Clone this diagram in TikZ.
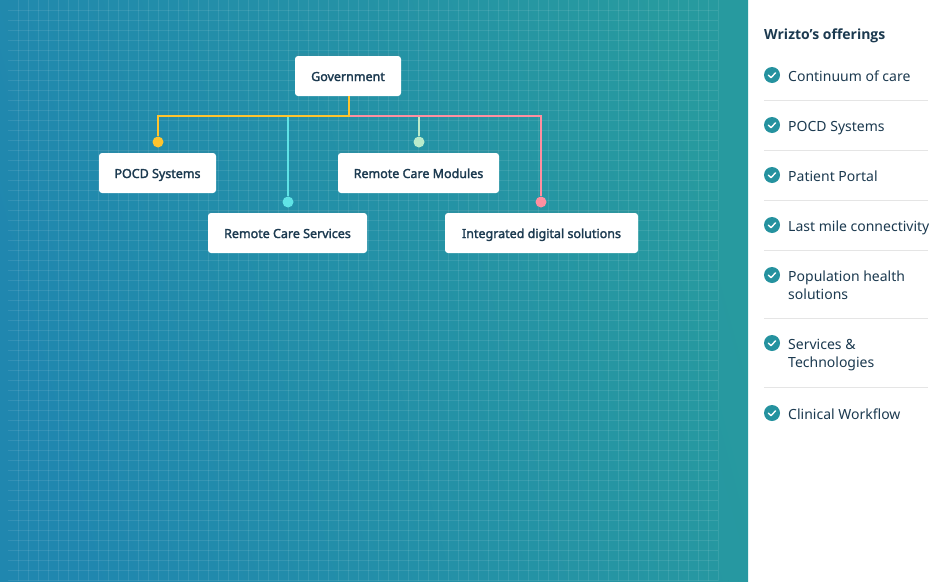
\documentclass[tikz,border=0pt]{standalone}
\usepackage{fontspec}
\setmainfont{Noto Sans}
\newfontfamily\boxfont[FakeBold=2]{Noto Sans}
\newfontfamily\titlefont{Open Sans}
\usetikzlibrary{shadows}
\definecolor{inkblue}{HTML}{1C3A50}
\definecolor{tealdark}{HTML}{25929F}
\definecolor{lineyellow}{HTML}{FFC42E}
\definecolor{linecyan}{HTML}{5FE3E6}
\definecolor{linemint}{HTML}{B9EBCB}
\definecolor{linepink}{HTML}{FF8FA0}
\definecolor{bgleft}{HTML}{2087AF}
\definecolor{bgright}{HTML}{279A9F}
\tikzset{
	offerbox/.style={fill=white,rounded corners=3pt,minimum height=40pt,inner sep=0pt,text=inkblue,
		text height=10pt,text depth=0pt,
		font=\boxfont\fontsize{12.5}{14}\selectfont,drop shadow={shadow xshift=0pt,shadow yshift=3pt,opacity=.08}},
	enddot/.style={circle,inner sep=0pt,minimum size=11pt},
	wireline/.style={line width=2.4pt},
	gridline/.style={white,opacity=.09,line width=1pt},
	tickdot/.style={circle,fill=tealdark,inner sep=0pt,minimum size=16pt},
	tickmark/.style={white,line width=1.4pt,line cap=round,line join=round},
	offertext/.style={anchor=north west,inner sep=0pt,text=inkblue,align=left,font=\fontsize{14}{18}\selectfont},
	divider/.style={draw=black!10,line width=1pt}
}
\begin{document}
\begin{tikzpicture}[x=1pt,y=-1pt]
	\useasboundingbox (0,0) rectangle (944,581);
	\fill[white] (0,0) rectangle (944,581);
	\shade[shading=axis,left color=bgleft,right color=bgright,shading angle=105] (0,0) rectangle (748,581);
	% grid
	\foreach \gx in {18,28,...,718}
		\draw[gridline] (\gx,0)--(\gx,581);
	\foreach \gy in {10,20,...,580}
		\draw[gridline] (8,\gy)--(718,\gy);
	% boxes
	\node (gov) at (348,76)[offerbox,minimum width=106pt] {Government};
	\node (pocd) at (157.5,173)[offerbox,minimum width=117pt] {POCD Systems};
	\node (rcm) at (418.5,173)[offerbox,minimum width=161pt] {Remote Care Modules};
	\node (rcs) at (287.5,233)[offerbox,minimum width=159pt] {Remote Care Services};
	\node (ids) at (541.5,233)[offerbox,minimum width=193pt] {Integrated digital solutions};
	% connectors
	\coordinate (join) at (349,116);
	\node (dotpocd) at (158,142)[enddot,fill=lineyellow] {};
	\node (dotrcs) at (288,202)[enddot,fill=linecyan] {};
	\node (dotrcm) at (419,142)[enddot,fill=linemint] {};
	\node (dotids) at (541,202)[enddot,fill=linepink] {};
	\draw[wireline,linecyan] (dotrcs |- join)--(dotrcs);
	\draw[wireline,linemint] (dotrcm |- join)--(dotrcm);
	\draw[wireline,linepink] (join)-|(dotids);
	\draw[wireline,lineyellow] (gov.south -| join)--(join)-|(dotpocd);
	% offerings
	\node (title) at (764,29)[offertext,font=\titlefont\bfseries\fontsize{14}{18}\selectfont] {Wrizto’s offerings};
	\foreach \iname/\iy/\itext in {a/67/{Continuum of care},b/117/{POCD Systems},c/167/{Patient Portal},
		d/217/{Last mile connectivity},e/267/{Population health\\solutions},f/335/{Services \&\\Technologies},g/405/{Clinical Workflow}}{
		\node (tick\iname) at (772,\iy+8)[tickdot] {};
		\draw[tickmark] ([shift={(-3.6,0.2)}]tick\iname.center)--([shift={(-1,2.6)}]tick\iname.center)--([shift={(3.6,-2.2)}]tick\iname.center);
		\node (text\iname) at (788,\iy+4)[offertext] {\itext};
	}
	\foreach \dy in {100,150,200,250,318,387}
		\draw[divider] (764,\dy)--(928,\dy);
\end{tikzpicture}
\end{document}
